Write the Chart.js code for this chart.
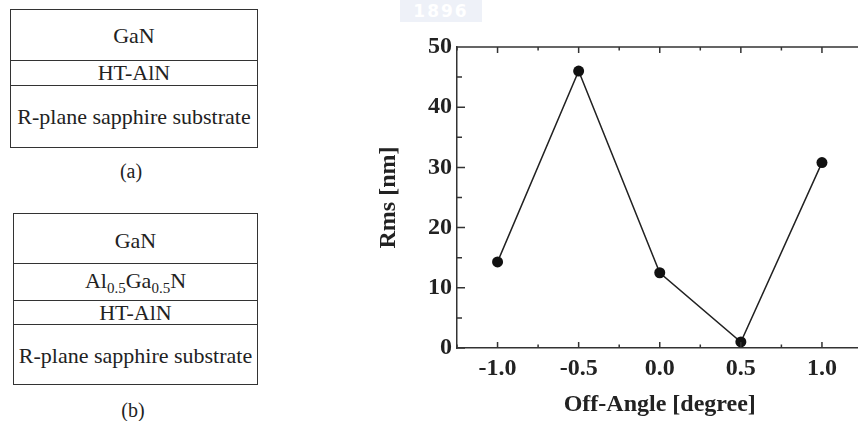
<!DOCTYPE html>
<html>
<head>
<meta charset="utf-8">
<script src="https://cdn.jsdelivr.net/npm/chart.js@4.4.1/dist/chart.umd.min.js"></script>
<style>
body{margin:0;width:858px;height:421px;overflow:hidden;background:#fff;position:relative;color:#222;font-family:"Liberation Serif","Times New Roman",serif}
.box{position:absolute;border:1.5px solid #333;box-sizing:border-box}
.layer{position:absolute;left:0;right:0;border-bottom:1.5px solid #333;box-sizing:border-box;text-align:center;font-size:22px}
.layer.last{border-bottom:none}
.cap{position:absolute;font-size:20px;width:60px;text-align:center}
#mark{position:absolute;left:400px;top:0;width:82px;height:22px;background:#eef1f8;color:#fff;font:bold 17px "DejaVu Sans",sans-serif;text-align:center;line-height:22px;letter-spacing:2px}
#wrap{position:absolute;left:350px;top:0;width:518px;height:421px}
</style>
</head>
<body>
<div id="mark">1896</div>

<div class="box" style="left:10px;top:9px;width:248px;height:139px">
  <div class="layer" style="top:0;height:51px;line-height:51px">GaN</div>
  <div class="layer" style="top:51px;height:25px;line-height:24px">HT-AlN</div>
  <div class="layer last" style="top:76px;height:61px;line-height:61px">R-plane sapphire substrate</div>
</div>
<div class="cap" style="left:101px;top:160px">(a)</div>

<div class="box" style="left:13px;top:213px;width:245px;height:172px">
  <div class="layer" style="top:0;height:50px;line-height:54px">GaN</div>
  <div class="layer" style="top:50px;height:37px;line-height:34px">Al<sub style="font-size:15px">0.5</sub>Ga<sub style="font-size:15px">0.5</sub>N</div>
  <div class="layer" style="top:87px;height:24px;line-height:24px">HT-AlN</div>
  <div class="layer last" style="top:111px;height:59px;line-height:62px">R-plane sapphire substrate</div>
</div>
<div class="cap" style="left:103px;top:399px">(b)</div>

<div id="wrap"><canvas id="c" width="518" height="421"></canvas></div>

<script>
const offAngle=[-1.0,-0.5,0.0,0.5,1.0];
const rms=[14.3,46.0,12.5,1.0,30.8];
const xTicks=[-1.0,-0.5,0.0,0.5,1.0];
const yTicks=[0,10,20,30,40,50];
const xMinor=[-1.25,-0.75,-0.25,0.25,0.75,1.25];
const yMinor=[5,15,25,35,45];

const font={family:"Liberation Serif",size:24,weight:"bold"};

const tickPlugin={
id:"inTicks",
afterDraw(chart){
let ctx=chart.ctx;
let a=chart.chartArea;
let x=chart.scales.x, y=chart.scales.y;
ctx.save();
ctx.strokeStyle="#333";
ctx.lineWidth=1.5;
ctx.beginPath();
ctx.moveTo(a.left,a.top);ctx.lineTo(a.right,a.top);
ctx.moveTo(a.right,a.top);ctx.lineTo(a.right,a.bottom);
xTicks.forEach(v=>{
let p=x.getPixelForValue(v);
ctx.moveTo(p,a.bottom);ctx.lineTo(p,a.bottom-6);
ctx.moveTo(p,a.top);ctx.lineTo(p,a.top+6);
});
xMinor.forEach(v=>{
let p=x.getPixelForValue(v);
ctx.moveTo(p,a.bottom);ctx.lineTo(p,a.bottom-3.5);
ctx.moveTo(p,a.top);ctx.lineTo(p,a.top+3.5);
});
yTicks.forEach(v=>{
let p=y.getPixelForValue(v);
ctx.moveTo(a.left,p);ctx.lineTo(a.left+8,p);
});
yMinor.forEach(v=>{
let p=y.getPixelForValue(v);
ctx.moveTo(a.left,p);ctx.lineTo(a.left+5,p);
});
ctx.stroke();
ctx.restore();
}
};

new Chart(document.getElementById("c"),{
type:"scatter",
data:{
datasets:[{
data:offAngle.map((v,i)=>({x:v,y:rms[i]})),
showLine:true,
borderColor:"#222",
borderWidth:1.5,
backgroundColor:"#111",
pointRadius:5.5,
pointBorderWidth:0
}]
},
options:{
responsive:false,
animation:false,
layout:{padding:{top:47,right:0,left:0,bottom:0}},
plugins:{legend:{display:false},tooltip:{enabled:false}},
scales:{
x:{
type:"linear",min:-1.25,max:1.25,
afterBuildTicks:s=>{s.ticks=xTicks.map(v=>({value:v}));},
afterFit:s=>{s.height=73;},
grid:{display:false,drawTicks:false},
border:{display:true,color:"#333",width:1.5},
ticks:{color:"#222",font:font,padding:6,callback:v=>v.toFixed(1),maxRotation:0},
title:{display:true,text:"Off-Angle [degree]",color:"#222",font:font,padding:{top:0,bottom:2}}
},
y:{
min:0,max:50,
afterBuildTicks:s=>{s.ticks=yTicks.map(v=>({value:v}));},
afterFit:s=>{s.width=107;},
grid:{display:false,drawTicks:false},
border:{display:true,color:"#333",width:1.5},
ticks:{color:"#222",font:font,padding:5},
title:{display:true,text:"Rms [nm]",color:"#222",font:font,padding:{top:24,bottom:0}}
}
}
},
plugins:[tickPlugin]
});
</script>
</body>
</html>
